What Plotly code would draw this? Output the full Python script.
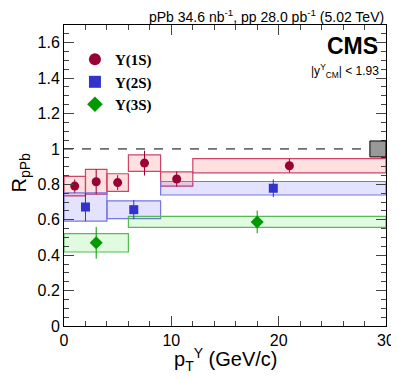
import plotly.graph_objects as go

# R_pPb vs pT for the three Upsilon states
bins_1s = [[0, 2], [2, 4], [4, 6], [6, 9], [9, 12], [12, 30]]
pt_1s = [1, 3, 5, 7.5, 10.5, 21]
r_1s = [0.79, 0.815, 0.81, 0.92, 0.83, 0.905]
stat_1s = [0.038, 0.07, 0.042, 0.07, 0.043, 0.038]
syst_1s = [0.055, 0.07, 0.05, 0.047, 0.04, 0.04]

bins_2s = [[0, 4], [4, 9], [9, 30]]
pt_2s = [2, 6.5, 19.5]
r_2s = [0.672, 0.657, 0.778]
stat_2s = [0.08, 0.054, 0.05]
syst_2s = [0.08, 0.05, 0.038]

bins_3s = [[0, 6], [6, 30]]
pt_3s = [3, 18]
r_3s = [0.47, 0.588]
stat_3s = [0.09, 0.064]
syst_3s = [0.052, 0.031]

lumi_unc = 0.045  # global uncertainty box at R=1

series = [
    ("Υ(1S)", bins_1s, pt_1s, r_1s, stat_1s, syst_1s, "#990033", "circle", "rgba(255,0,0,0.12)", "#cc4466"),
    ("Υ(2S)", bins_2s, pt_2s, r_2s, stat_2s, syst_2s, "#3333cc", "square", "rgba(0,0,255,0.11)", "#7777dd"),
    ("Υ(3S)", bins_3s, pt_3s, r_3s, stat_3s, syst_3s, "#009900", "diamond", "rgba(0,220,0,0.12)", "#55bb55"),
]

fig = go.Figure()
shapes = []

# dashed line at unity
shapes.append(dict(type="line", xref="x", yref="y", x0=0, x1=30, y0=1, y1=1,
                   line=dict(color="black", width=1, dash="dash"), layer="below"))

for name, bins, pt, r, stat, syst, col, sym, fill, edge in series:
    for (lo, hi), v, s in zip(bins, r, syst):
        shapes.append(dict(type="rect", xref="x", yref="y", x0=lo, x1=hi, y0=v - s, y1=v + s,
                           fillcolor=fill, line=dict(color=edge, width=1.2), layer="below"))
    fig.add_trace(go.Scatter(
        x=pt, y=r, mode="markers", name="<b>" + name + "</b>",
        marker=dict(color=col, symbol=sym, size=9 if sym != "diamond" else 10),
        error_y=dict(type="data", array=stat, color=col, thickness=1, width=0),
    ))

shapes.append(dict(type="rect", xref="x", yref="y", x0=28.5, x1=30, y0=1 - lumi_unc, y1=1 + lumi_unc,
                   fillcolor="#999999", line=dict(color="black", width=1)))

# page body adds an 8px offset, so the figure is sized to fill the rest of the window
fig.update_layout(
    width=391, height=372,
    margin=dict(l=56, r=13, t=17, b=54),
    plot_bgcolor="white", paper_bgcolor="white",
    font=dict(family="Liberation Sans, Arial", size=16, color="black"),
    shapes=shapes,
    showlegend=True,
    legend=dict(x=0.034, y=0.94, xanchor="left", yanchor="top",
                font=dict(family="Liberation Serif, Times New Roman", size=15),
                bgcolor="rgba(0,0,0,0)", tracegroupgap=0, itemsizing="constant"),
)

fig.update_xaxes(range=[0, 30], tickvals=[0, 10, 20, 30], ticks="inside", ticklen=10,
                 showline=True, linecolor="black", linewidth=1, mirror="allticks",
                 showgrid=False, zeroline=False, automargin=False,
                 minor=dict(dtick=2, ticks="inside", ticklen=5, showgrid=False))
fig.update_yaxes(range=[0, 1.7], tickvals=[0, 0.2, 0.4, 0.6, 0.8, 1, 1.2, 1.4, 1.6],
                 ticktext=["0", "0.2", "0.4", "0.6", "0.8", "1", "1.2", "1.4", "1.6"],
                 ticks="inside", ticklen=10,
                 showline=True, linecolor="black", linewidth=1, mirror="allticks",
                 showgrid=False, zeroline=False, automargin=False,
                 minor=dict(dtick=0.05, ticks="inside", ticklen=5, showgrid=False))

fig.add_annotation(text="pPb 34.6 nb<sup>-1</sup>, pp 28.0 pb<sup>-1</sup> (5.02 TeV)",
                   xref="paper", yref="paper", x=1, y=1.0, yshift=-2, xanchor="right", yanchor="bottom",
                   showarrow=False, font=dict(size=14))
fig.add_annotation(text="<b>CMS</b>", xref="paper", yref="paper", x=0.98, y=0.98,
                   xanchor="right", yanchor="top", showarrow=False, font=dict(size=23))
fig.add_annotation(text="|y<sup>Υ</sup><sub>CM</sub>| < 1.93", xref="paper", yref="paper",
                   x=0.985, y=0.885, xanchor="right", yanchor="top", showarrow=False,
                   font=dict(size=12))
fig.add_annotation(text="R<sub>pPb</sub>", xref="paper", yref="paper", x=0, y=0.51,
                   xshift=-44, xanchor="center", yanchor="middle", textangle=-90, showarrow=False,
                   font=dict(size=20))
fig.add_annotation(text="p<sub>T</sub><sup>Υ</sup> (GeV/c)", xref="paper", yref="paper",
                   x=0.5, y=0, yshift=-17, xanchor="center", yanchor="top", showarrow=False,
                   font=dict(size=20))

fig.write_html("out.html")
